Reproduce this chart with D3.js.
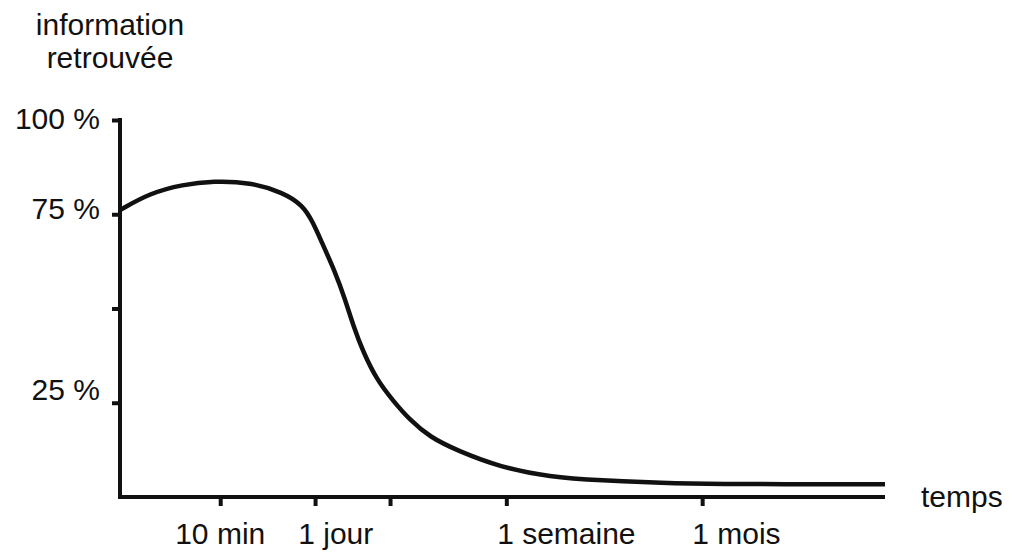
<!DOCTYPE html>
<html><head><meta charset="utf-8">
<script src="https://cdn.jsdelivr.net/npm/d3@7"></script>
<style>body{margin:0;background:#fff}svg{display:block}text{font-family:"Liberation Sans",Arial,sans-serif;fill:#111}</style>
</head><body><svg id="c" width="1016" height="555"></svg>
<script>
// time position (arbitrary units along axis) and % of information retrieved
const timePos = [0, 3.9, 8.2, 12.2, 17.0, 21.3, 23.9, 25.2, 26.5, 28.1, 29.4, 30.5, 31.8, 33.6, 35.7, 37.9, 40.5, 44.1, 49.7, 56.2, 62.7, 71.5, 75.8, 100];
const retained = [76.1, 80.6, 82.9, 83.8, 83.5, 80.8, 77.4, 73.0, 67.0, 59.8, 52.6, 45.4, 38.4, 31.0, 25.5, 20.4, 15.9, 12.3, 7.9, 5.3, 4.4, 3.7, 3.4, 3.4];
const xTickVals = [13.1, 25.5, 35.3, 50.5, 76.1];
const xTickLabels = ["10 min", "1 jour", "", "1 semaine", "1 mois"];
const xLabelAt = [13.1, 23.3, null, 49.3, 74.8];
const xLabelAnchor = ["middle", "start", "start", "start", "start"];
const yTickVals = [25, 50, 75, 100];
const yTickLabels = ["25 %", "", "75 %", "100 %"];
const yLabelAt = [28, 50, 76, 100];
const yTitle = ["information", "retrouvée"];
const xTitle = "temps";

const svg = d3.select("#c");
svg.append("rect").attr("width",1016).attr("height",555).attr("fill","#fff");
const x = d3.scaleLinear().domain([0,100]).range([120,885]);
const y = d3.scaleLinear().domain([0,100]).range([497,120]);

const gx = svg.append("g").attr("transform","translate(0,497)")
  .call(d3.axisBottom(x).tickValues(xTickVals).tickSize(9).tickFormat("").tickSizeOuter(0));
gx.select(".domain").attr("stroke","#111").attr("stroke-width",4).attr("d",`M118,0H885`);
gx.selectAll(".tick line").attr("stroke","#111").attr("stroke-width",4);

const gy = svg.append("g").attr("transform","translate(120,0)")
  .call(d3.axisLeft(y).tickValues(yTickVals).tickSize(8).tickFormat("").tickSizeOuter(0));
gy.select(".domain").attr("stroke","#111").attr("stroke-width",4).attr("d",`M0,${y(100)-2}V${y(0)+2}`);
gy.selectAll(".tick line").attr("stroke","#111").attr("stroke-width",4);

svg.append("path").datum(timePos.map((t,i)=>[t,retained[i]]))
  .attr("fill","none").attr("stroke","#111").attr("stroke-width",4.5).attr("stroke-linejoin","round")
  .attr("d", d3.line().x(d=>x(d[0])).y(d=>y(d[1])).curve(d3.curveBasis));

const fs = 30;
xTickLabels.forEach((l,i)=>{ if(!l) return;
  svg.append("text").attr("x",x(xLabelAt[i])).attr("y",544).attr("text-anchor",xLabelAnchor[i])
    .attr("font-size",fs).text(l);
});
yTickLabels.forEach((l,i)=>{ if(!l) return;
  svg.append("text").attr("x",100).attr("y",y(yLabelAt[i])+9).attr("text-anchor","end")
    .attr("font-size",fs).text(l);
});
yTitle.forEach((l,i)=>svg.append("text").attr("x",110).attr("y",35+i*33).attr("text-anchor","middle").attr("font-size",fs).text(l));
svg.append("text").attr("x",921).attr("y",507).attr("font-size",fs).text(xTitle);
</script></body></html>
